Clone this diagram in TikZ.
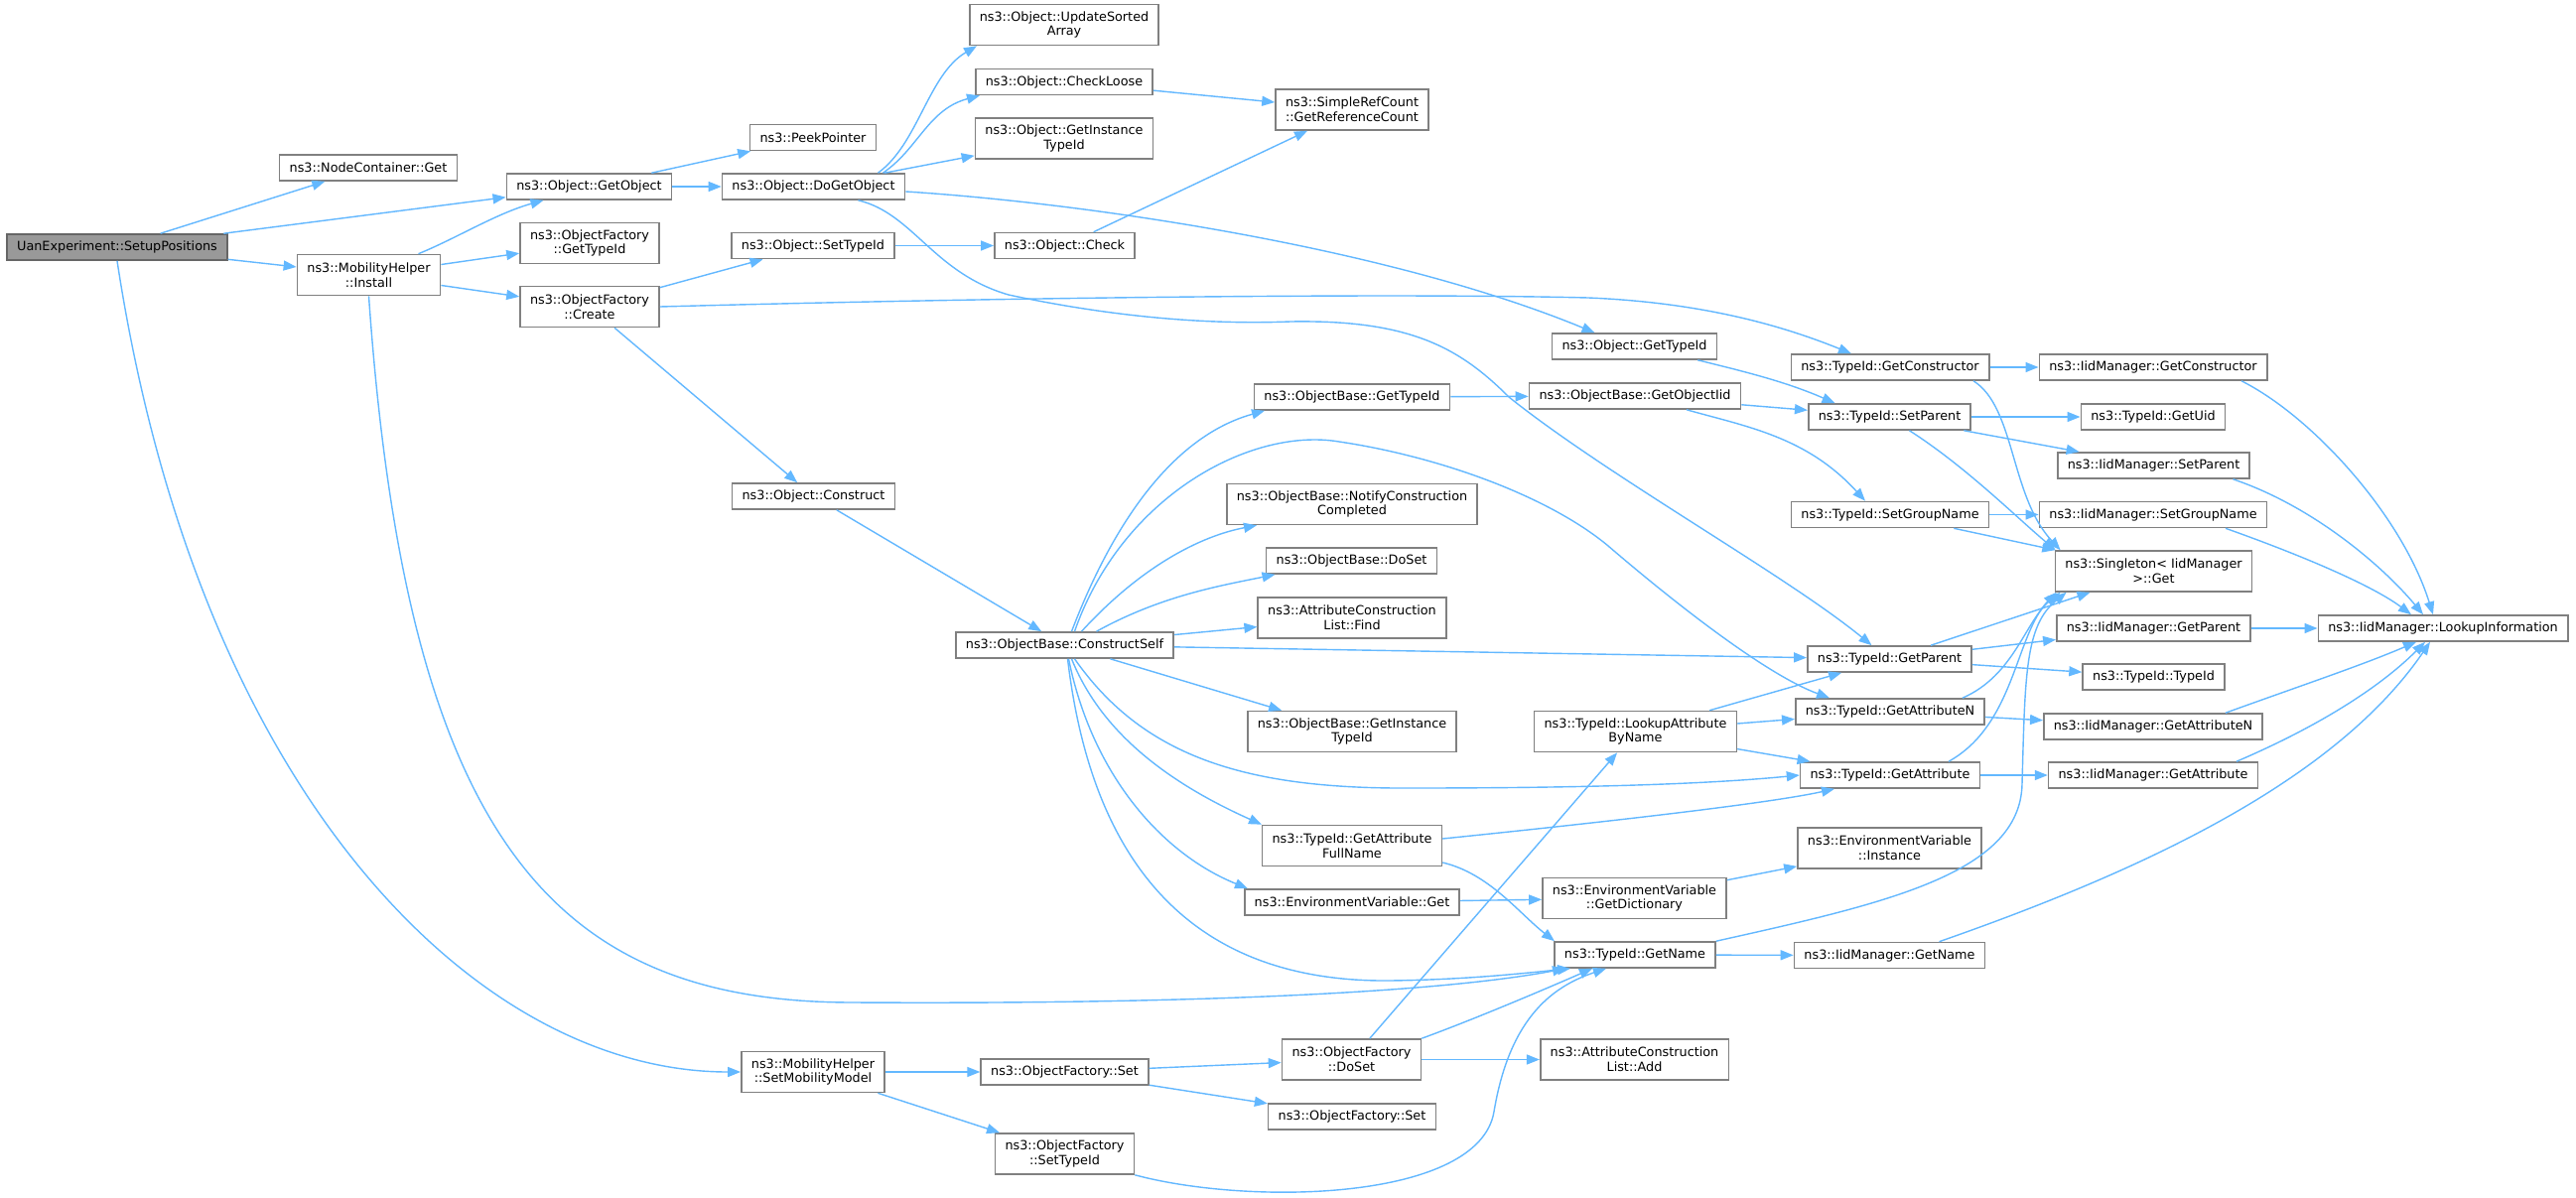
\documentclass[tikz,border=0pt]{standalone}
\usepackage{fontspec}
\setmainfont{DejaVu Sans}
\usepackage{tikz}
\usetikzlibrary{arrows.meta}
\usetikzlibrary{positioning}

\definecolor{edgeblue}{HTML}{63B8FF}
\definecolor{boxgray}{HTML}{808080}
\definecolor{maingray}{HTML}{999999}
\definecolor{mainborder}{HTML}{666666}
\newcommand{\fnfont}{\fontsize{12.8pt}{14.7pt}\selectfont}

\begin{document}
\begin{tikzpicture}[
  x=1pt, y=-1pt,
  fn/.style={draw=boxgray, line width=1.6pt, fill=white, inner xsep=10pt, inner ysep=0pt, minimum height=26pt, align=center, font=\fnfont},
  fn2/.style={fn, minimum height=41pt},
  fnmain/.style={fn, fill=maingray, draw=mainborder},
  arrow/.style={-{Triangle[length=13pt,width=10pt]}, color=edgeblue, line width=1.4pt}
]
\useasboundingbox[fill=white] (0,0) rectangle (2595,1207);

% Nodes, one column of the call graph after another
\node[fnmain] (setup) at (118,249) {UanExperiment::SetupPositions};

\node[fn] (ncget) at (371,169) {ns3::NodeContainer::Get};
\node[fn2] (install) at (371.5,277) {ns3::MobilityHelper\\::Install};

\node[fn] (getobj) at (593.5,188) {ns3::Object::GetObject};
\node[fn2] (oftypeid) at (594,245) {ns3::ObjectFactory\\::GetTypeId};
\node[fn2] (create) at (594,309) {ns3::ObjectFactory\\::Create};

\node[fn] (peek) at (819,138.5) {ns3::PeekPointer};
\node[fn] (dogetobj) at (819.5,188) {ns3::Object::DoGetObject};
\node[fn] (settypeid) at (819,247.5) {ns3::Object::SetTypeId};
\node[fn] (construct) at (819.5,500) {ns3::Object::Construct};
\node[fn2] (setmob) at (819,1080) {ns3::MobilityHelper\\::SetMobilityModel};

\node[fn2] (usa) at (1072,25) {ns3::Object::UpdateSorted\\Array};
\node[fn] (checkloose) at (1072,82.5) {ns3::Object::CheckLoose};
\node[fn2] (objinst) at (1072,139.5) {ns3::Object::GetInstance\\TypeId};
\node[fn] (check) at (1072.5,247.5) {ns3::Object::Check};
\node[fn] (constructself) at (1072.5,650) {ns3::ObjectBase::ConstructSelf};
\node[fn] (ofset) at (1072.5,1080) {ns3::ObjectFactory::Set};
\node[fn2] (ofsettypeid) at (1072.5,1162.5) {ns3::ObjectFactory\\::SetTypeId};

\node[fn2] (refcount) at (1362,110.5) {ns3::SimpleRefCount\\::GetReferenceCount};
\node[fn] (obtypeid) at (1362,400) {ns3::ObjectBase::GetTypeId};
\node[fn2] (notify) at (1362,508) {ns3::ObjectBase::NotifyConstruction\\Completed};
\node[fn] (doset) at (1361.5,565) {ns3::ObjectBase::DoSet};
\node[fn2] (acfind) at (1362,622.5) {ns3::AttributeConstruction\\List::Find};
\node[fn2] (obinst) at (1362,737) {ns3::ObjectBase::GetInstance\\TypeId};
\node[fn2] (fullname) at (1362,852) {ns3::TypeId::GetAttribute\\FullName};
\node[fn] (envget) at (1362,909) {ns3::EnvironmentVariable::Get};
\node[fn2] (ofdoset) at (1361.5,1067.5) {ns3::ObjectFactory\\::DoSet};
\node[fn] (ofset2) at (1362,1125) {ns3::ObjectFactory::Set};

\node[fn] (objtypeid) at (1646.5,349) {ns3::Object::GetTypeId};
\node[fn] (objiid) at (1647,399) {ns3::ObjectBase::GetObjectIid};
\node[fn2] (lookupattr) at (1647.5,737) {ns3::TypeId::LookupAttribute\\ByName};
\node[fn2] (envdict) at (1646.5,905) {ns3::EnvironmentVariable\\::GetDictionary};
\node[fn] (getname) at (1647,962) {ns3::TypeId::GetName};
\node[fn2] (acadd) at (1646.5,1067.5) {ns3::AttributeConstruction\\List::Add};

\node[fn] (getctor) at (1904,370) {ns3::TypeId::GetConstructor};
\node[fn] (setparent) at (1903.5,420) {ns3::TypeId::SetParent};
\node[fn] (setgroup) at (1904,518.5) {ns3::TypeId::SetGroupName};
\node[fn] (getparent) at (1903.5,664) {ns3::TypeId::GetParent};
\node[fn] (getattrn) at (1904,717) {ns3::TypeId::GetAttributeN};
\node[fn] (getattr) at (1904,781) {ns3::TypeId::GetAttribute};
\node[fn2] (envinst) at (1903.5,854.5) {ns3::EnvironmentVariable\\::Instance};
\node[fn] (iidgetname) at (1903.5,962.5) {ns3::IidManager::GetName};

\node[fn] (iidctor) at (2169,370) {ns3::IidManager::GetConstructor};
\node[fn] (getuid) at (2169,420) {ns3::TypeId::GetUid};
\node[fn] (iidsetparent) at (2169.5,469) {ns3::IidManager::SetParent};
\node[fn] (iidsetgroup) at (2169,518.5) {ns3::IidManager::SetGroupName};
\node[fn2] (singleton) at (2169.5,575.5) {ns3::Singleton< IidManager\\>::Get};
\node[fn] (iidgetparent) at (2169.5,633) {ns3::IidManager::GetParent};
\node[fn] (typeidctor) at (2169.5,682) {ns3::TypeId::TypeId};
\node[fn] (iidgetattrn) at (2169,732) {ns3::IidManager::GetAttributeN};
\node[fn] (iidgetattr) at (2169,781) {ns3::IidManager::GetAttribute};

\node[fn] (lookup) at (2461,633) {ns3::IidManager::LookupInformation};

% Edges
\draw[arrow] (setup) -- (ncget);
\draw[arrow] (setup) -- (getobj);
\draw[arrow] (setup) -- (install);
\draw[arrow] (setup.south) .. controls (200,800) and (480,1080) .. (setmob.west);

\draw[arrow] ([xshift=50pt]install.north) .. controls (460,240) and (500,215) .. ([xshift=-46pt]getobj.south);
\draw[arrow] (install) -- (oftypeid);
\draw[arrow] (install) -- (create);
\draw[arrow] (install.south) .. controls (410,850) and (560,1010) .. (860,1010) .. controls (1200,1012) and (1450,1000) .. ([xshift=-70pt]getname.south);

\draw[arrow] (create) -- (settypeid);
\draw[arrow] (create.east) .. controls (1000,300) and (1400,295) .. (1600,300) .. controls (1720,305) and (1800,330) .. ([xshift=-39pt]getctor.north);
\draw[arrow] (create) -- (construct);

\draw[arrow] (getobj) -- (peek);
\draw[arrow] (getobj) -- (dogetobj);
\draw[arrow] ([xshift=65pt]dogetobj.north) .. controls (925,145) and (935,75) .. ([xshift=-88pt]usa.south);
\draw[arrow] ([xshift=70pt]dogetobj.north) .. controls (925,150) and (935,110) .. ([xshift=-85pt]checkloose.south);
\draw[arrow] (dogetobj) -- (objinst);
\draw[arrow] ([yshift=-5pt]dogetobj.east) .. controls (1100,205) and (1400,250) .. ([xshift=-40pt]objtypeid.north);
\draw[arrow] ([xshift=45pt]dogetobj.south) .. controls (920,215) and (940,275) .. (1016,297) .. controls (1100,315) and (1200,328) .. (1300,324) .. controls (1420,322) and (1470,350) .. (1520,400) .. controls (1620,480) and (1800,580) .. ([xshift=-18pt]getparent.north);

\draw[arrow] (checkloose) -- (refcount);
\draw[arrow] (settypeid) -- (check);
\draw[arrow] (check) -- (refcount);

\draw[arrow] ([xshift=-20pt]objtypeid.south east) .. controls (1760,375) and (1800,385) .. ([xshift=-55pt]setparent.north);
\draw[arrow] (obtypeid) -- (objiid);
\draw[arrow] (objiid) -- (setparent);
\draw[arrow] ([xshift=52pt]objiid.south) .. controls (1760,430) and (1820,440) .. ([xshift=-25pt]setgroup.north);

\draw[arrow] (getctor) -- (iidctor);
\draw[arrow] ([xshift=84pt]getctor.south) .. controls (2030,410) and (2025,500) .. ([xshift=6pt]singleton.north west);
\draw[arrow] (setparent) -- (getuid);
\draw[arrow] (setparent) -- (iidsetparent);
\draw[arrow] ([xshift=20pt]setparent.south) .. controls (1980,470) and (2030,520) .. ([xshift=1pt]singleton.north west);
\draw[arrow] (setgroup) -- (iidsetgroup);
\draw[arrow] (setgroup) -- (singleton);
\draw[arrow] (getparent) -- (singleton);
\draw[arrow] (getparent) -- (iidgetparent);
\draw[arrow] (getparent) -- (typeidctor);
\draw[arrow] ([xshift=73pt]getattrn.north) .. controls (2030,680) and (2040,625) .. ([xshift=6pt]singleton.south west);
\draw[arrow] (getattrn) -- (iidgetattrn);
\draw[arrow] ([xshift=59pt]getattr.north) .. controls (2030,730) and (2030,640) .. ([xshift=2pt]singleton.south west);
\draw[arrow] (getattr) -- (iidgetattr);
\draw[arrow] (getname.north east) .. controls (1900,910) and (2035,880) .. (2037,790) .. controls (2040,680) and (2040,630) .. ([xshift=12pt]singleton.south west);
\draw[arrow] (getname) -- (iidgetname);

\draw[arrow] ([xshift=89pt]iidctor.south) .. controls (2330,420) and (2420,520) .. ([xshift=-10pt]lookup.north);
\draw[arrow] ([xshift=80pt]iidsetparent.south) .. controls (2330,510) and (2400,570) .. ([xshift=-20pt]lookup.north);
\draw[arrow] ([xshift=73pt]iidsetgroup.south) .. controls (2320,560) and (2390,590) .. ([xshift=-32pt]lookup.north);
\draw[arrow] (iidgetparent) -- (lookup);
\draw[arrow] ([xshift=73pt]iidgetattrn.north) .. controls (2320,690) and (2380,670) .. ([xshift=-27pt]lookup.south);
\draw[arrow] ([xshift=84pt]iidgetattr.north) .. controls (2340,730) and (2400,690) .. ([xshift=-18pt]lookup.south);
\draw[arrow] ([xshift=50pt]iidgetname.north) .. controls (2150,880) and (2350,790) .. ([xshift=-13pt]lookup.south);

\draw[arrow] (lookupattr) -- (getparent);
\draw[arrow] (lookupattr) -- (getattrn);
\draw[arrow] (lookupattr) -- (getattr);

\draw[arrow] (construct) -- (constructself);
\draw[arrow] ([xshift=7pt]constructself.north) .. controls (1120,530) and (1180,440) .. ([xshift=-88pt]obtypeid.south);
\draw[arrow] ([xshift=10pt]constructself.north) .. controls (1130,500) and (1260,430) .. (1349,445) .. controls (1450,460) and (1560,500) .. (1620,550) .. controls (1690,610) and (1780,680) .. ([xshift=-61pt]getattrn.north);
\draw[arrow] ([xshift=17pt]constructself.north) .. controls (1150,570) and (1210,540) .. ([xshift=-96pt]notify.south);
\draw[arrow] ([xshift=32pt]constructself.north) .. controls (1170,600) and (1230,590) .. ([xshift=-77pt]doset.south);
\draw[arrow] (constructself) -- (acfind);
\draw[arrow] (constructself) -- (getparent);
\draw[arrow] (constructself) -- (obinst);
\draw[arrow] ([xshift=10pt]constructself.south) .. controls (1150,760) and (1250,795) .. (1420,794) .. controls (1600,794) and (1720,790) .. (getattr.west);
\draw[arrow] ([xshift=7pt]constructself.south) .. controls (1110,740) and (1180,790) .. ([xshift=-91pt]fullname.north);
\draw[arrow] ([xshift=4pt]constructself.south) .. controls (1100,780) and (1170,860) .. ([xshift=-105pt]envget.north);
\draw[arrow] ([xshift=3pt]constructself.south) .. controls (1100,870) and (1200,990) .. (1400,988) .. controls (1480,987) and (1540,980) .. ([xshift=-65pt]getname.south);

\draw[arrow] ([yshift=7pt]fullname.east) .. controls (1600,830) and (1780,810) .. ([xshift=-56pt]getattr.south);
\draw[arrow] ([yshift=-17pt]fullname.east) .. controls (1500,880) and (1530,920) .. ([xshift=-81pt]getname.north);
\draw[arrow] (envget) -- (envdict);
\draw[arrow] (envdict) -- (envinst);

\draw[arrow] (ofdoset) -- (lookupattr);
\draw[arrow] (ofdoset.north east) .. controls (1490,1025) and (1560,995) .. ([xshift=-43pt]getname.south);
\draw[arrow] (ofdoset) -- (acadd);
\draw[arrow] (ofsettypeid.south east) .. controls (1260,1215) and (1490,1210) .. (1505,1120) .. controls (1520,1030) and (1560,995) .. ([xshift=-29pt]getname.south);
\draw[arrow] (setmob) -- (ofset);
\draw[arrow] (setmob) -- (ofsettypeid);
\draw[arrow] (ofset) -- (ofdoset);
\draw[arrow] (ofset) -- (ofset2);

\end{tikzpicture}
\end{document}
